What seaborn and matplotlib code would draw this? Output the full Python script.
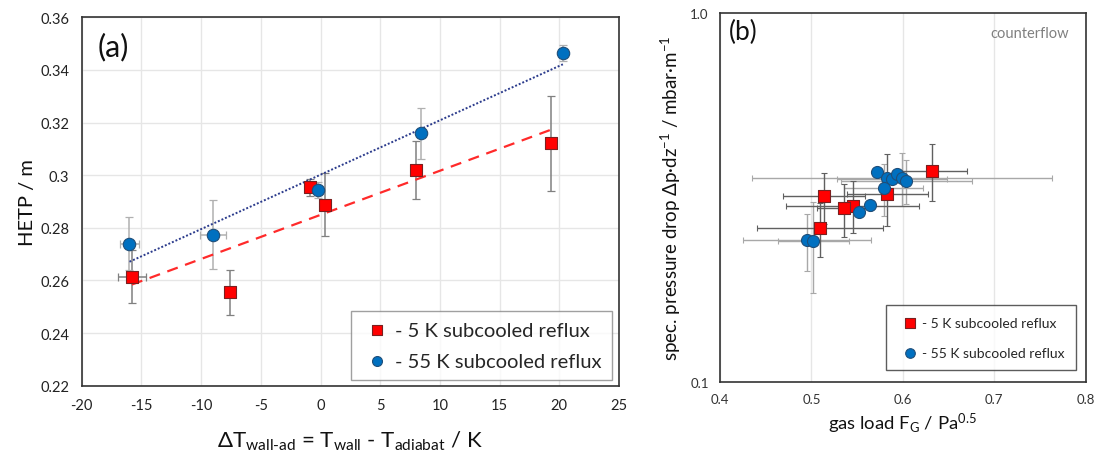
import numpy as np
import pandas as pd
import matplotlib
matplotlib.use("Agg")
import matplotlib.pyplot as plt
from matplotlib.ticker import FixedLocator, FuncFormatter, MultipleLocator, LogLocator, NullFormatter
import seaborn as sns

# ---------------- data: panel (a) ----------------
a_red_x = [-15.8, -7.6, -0.9, 0.4, 8.0, 19.3]
a_red_y = [0.2614, 0.2555, 0.2954, 0.2888, 0.3020, 0.3121]
a_red_yerr = [0.010, 0.0086, 0.0032, 0.012, 0.011, 0.018]
a_red_xerr = [1.15, 0, 0, 0, 0, 0]

a_blue_x = [-16.0, -9.0, -0.2, 8.45, 20.3]
a_blue_y = [0.2740, 0.2774, 0.2945, 0.3159, 0.3464]
a_blue_yerr = [0.010, 0.013, 0.003, 0.0096, 0.0032]
a_blue_xerr = [0.8, 1.1, 0, 0, 0]

# ---------------- data: panel (b) ----------------
b_red_fg = [0.632, 0.514, 0.583, 0.545, 0.536, 0.509]
b_red_dp = [0.3745, 0.320, 0.323, 0.3005, 0.297, 0.2613]
b_red_dp_lo = [0.310, 0.268, 0.266, 0.2535, 0.248, 0.218]
b_red_dp_hi = [0.442, 0.369, 0.416, 0.3505, 0.345, 0.307]
b_red_fg_err = [0.038, 0.045, 0.044, 0.073, 0.030, 0.069]

b_blue_fg = [0.572, 0.583, 0.5885, 0.594, 0.599, 0.604, 0.579, 0.564, 0.552, 0.495, 0.502]
b_blue_dp = [0.3725, 0.3574, 0.3552, 0.3664, 0.3574, 0.3521, 0.3364, 0.3025, 0.2899, 0.2425, 0.2418]
b_blue_dp_lo = [0.3725, 0.3574, 0.3552, 0.3664, 0.301, 0.3037, 0.2818, 0.3025, 0.2899, 0.200, 0.175]
b_blue_dp_hi = [0.3725, 0.3574, 0.3552, 0.3664, 0.418, 0.4013, 0.3904, 0.3025, 0.2899, 0.285, 0.3086]
b_blue_fg_err = [0, 0, 0.060, 0, 0.164, 0.072, 0.043, 0, 0, 0.070, 0.039]

labels = ["- 5 K subcooled reflux", "- 55 K subcooled reflux"]

RED = "#FF0000"
BLUE = "#0070C0"

sns.set_theme(style="white")
plt.rcParams["font.family"] = ["Lato", "DejaVu Sans"]
plt.rcParams["mathtext.fontset"] = "custom"
plt.rcParams["mathtext.rm"] = "Lato"
plt.rcParams["mathtext.it"] = "Lato:italic"
plt.rcParams["axes.unicode_minus"] = False

fig = plt.figure(figsize=(10.94, 4.56), dpi=100)
axA = fig.add_axes([0.0747, 0.152, 0.4911, 0.8079])
axB = fig.add_axes([0.6581, 0.1594, 0.3343, 0.8092])

# ---------------- panel (a) ----------------
dfa_r = pd.DataFrame({"x": a_red_x, "y": a_red_y})
dfa_b = pd.DataFrame({"x": a_blue_x, "y": a_blue_y})

axA.errorbar(a_red_x, a_red_y, yerr=a_red_yerr, xerr=a_red_xerr, fmt="none",
             ecolor="#808080", elinewidth=1.1, capsize=3, capthick=0.9, zorder=2)
axA.errorbar(a_blue_x, a_blue_y, yerr=a_blue_yerr, xerr=a_blue_xerr, fmt="none",
             ecolor="#b0b0b0", elinewidth=1.1, capsize=3, capthick=0.9, zorder=2)

sns.regplot(data=dfa_r, x="x", y="y", ax=axA, scatter=False, ci=None,
            line_kws=dict(color="#FF2A2A", lw=1.6, ls=(0, (5, 3.5))), truncate=True)
sns.regplot(data=dfa_b, x="x", y="y", ax=axA, scatter=False, ci=None,
            line_kws=dict(color="#2B3B8C", lw=1.4, ls=(0, (1, 1))), truncate=True)

sns.scatterplot(data=dfa_r, x="x", y="y", ax=axA, marker="s", s=75, color=RED,
                edgecolor="#7a2020", linewidth=0.8, zorder=4, label=labels[0])
sns.scatterplot(data=dfa_b, x="x", y="y", ax=axA, marker="o", s=80, color=BLUE,
                edgecolor="#1F4E79", linewidth=0.8, zorder=4, label=labels[1])

axA.set_xlim(-20, 25)
axA.set_ylim(0.22, 0.36)
axA.xaxis.set_major_locator(MultipleLocator(5))
axA.yaxis.set_major_locator(MultipleLocator(0.02))
axA.yaxis.set_major_formatter(FuncFormatter(lambda v, p: "0.3" if abs(v - 0.30) < 1e-9 else f"{v:.2f}"))
axA.grid(True, color="#e6e6e6", lw=1.0)
axA.tick_params(axis="both", which="major", direction="out", length=4, width=1,
                color="#333333", labelsize=10.5, labelcolor="#222222", pad=5)
for s in axA.spines.values():
    s.set_color("#333333")
    s.set_linewidth(1.2)
axA.set_xlabel(r"$\Delta$T$_{\text{wall-ad}}$ = T$_{\text{wall}}$ - T$_{\text{adiabat}}$ / K",
               fontsize=16, color="#111111", labelpad=12)
axA.set_ylabel("HETP / m", fontsize=14.5, color="#111111", labelpad=3)
axA.text(0.03, 0.96, "(a)", transform=axA.transAxes, fontsize=22, va="top", ha="left", color="#111111")
legA = axA.legend(loc="lower right", bbox_to_anchor=(0.987, 0.016), borderaxespad=0.0,
                  fontsize=14.5, frameon=True, fancybox=False, edgecolor="#888888",
                  handletextpad=0.1, borderpad=0.5, labelspacing=0.7, markerscale=0.8,
                  handlelength=1.6)
legA.get_frame().set_linewidth(1.0)

# ---------------- panel (b) ----------------
dfb_r = pd.DataFrame({"x": b_red_fg, "y": b_red_dp})
dfb_b = pd.DataFrame({"x": b_blue_fg, "y": b_blue_dp})

r_yerr = [np.array(b_red_dp) - np.array(b_red_dp_lo), np.array(b_red_dp_hi) - np.array(b_red_dp)]
b_yerr = [np.array(b_blue_dp) - np.array(b_blue_dp_lo), np.array(b_blue_dp_hi) - np.array(b_blue_dp)]

axB.errorbar(b_blue_fg, b_blue_dp, yerr=b_yerr, xerr=b_blue_fg_err, fmt="none",
             ecolor="#a8a8a8", elinewidth=1.0, capsize=2.5, capthick=0.8, zorder=2)
axB.errorbar(b_red_fg, b_red_dp, yerr=r_yerr, xerr=b_red_fg_err, fmt="none",
             ecolor="#606060", elinewidth=1.0, capsize=2.5, capthick=0.8, zorder=2)

sns.scatterplot(data=dfb_r, x="x", y="y", ax=axB, marker="s", s=75, color=RED,
                edgecolor="#7a2020", linewidth=0.8, zorder=4, label=labels[0])
sns.scatterplot(data=dfb_b, x="x", y="y", ax=axB, marker="o", s=75, color=BLUE,
                edgecolor="#1F4E79", linewidth=0.8, zorder=5, label=labels[1])

axB.set_yscale("log")
axB.set_xlim(0.4, 0.8)
axB.set_ylim(0.1, 1.0)
axB.xaxis.set_major_locator(MultipleLocator(0.1))
axB.xaxis.set_minor_locator(MultipleLocator(0.02))
axB.xaxis.set_major_formatter(FuncFormatter(lambda v, p: f"{v:.1f}"))
axB.yaxis.set_major_locator(FixedLocator([0.1, 1.0]))
axB.yaxis.set_major_formatter(FuncFormatter(lambda v, p: f"{v:.1f}"))
axB.yaxis.set_minor_locator(LogLocator(base=10, subs=np.arange(2, 10)))
axB.yaxis.set_minor_formatter(NullFormatter())
axB.grid(True, axis="x", which="major", color="#e6e6e6", lw=1.0)
axB.tick_params(axis="both", which="major", direction="out", length=4, width=1,
                color="#333333", labelsize=9.5, labelcolor="#333333", pad=4)
axB.tick_params(axis="both", which="minor", direction="out", length=2.5, width=0.8, color="#333333")
for s in axB.spines.values():
    s.set_color("#333333")
    s.set_linewidth(1.2)
axB.set_xlabel(r"gas load F$_{\mathregular{G}}$ / Pa$^{\mathregular{0.5}}$", fontsize=13.3,
               color="#111111", labelpad=4)
axB.set_ylabel(r"spec. pressure drop Δp·dz$^{\mathregular{-1}}$ / mbar·m$^{\mathregular{-1}}$",
               fontsize=13.5, color="#111111", labelpad=5)
axB.text(0.025, 0.985, "(b)", transform=axB.transAxes, fontsize=19, va="top", ha="left", color="#111111")
axB.text(0.955, 0.965, "counterflow", transform=axB.transAxes, fontsize=10.5, va="top", ha="right",
         color="#808080")
legB = axB.legend(loc="lower right", bbox_to_anchor=(0.9735, 0.034), borderaxespad=0.0,
                  fontsize=10, frameon=True, fancybox=False, edgecolor="#333333",
                  handletextpad=0.0, borderpad=0.8, labelspacing=1.3, markerscale=0.8,
                  handlelength=1.8)
legB.get_frame().set_linewidth(1.0)

fig.savefig("out.png", dpi=100)
